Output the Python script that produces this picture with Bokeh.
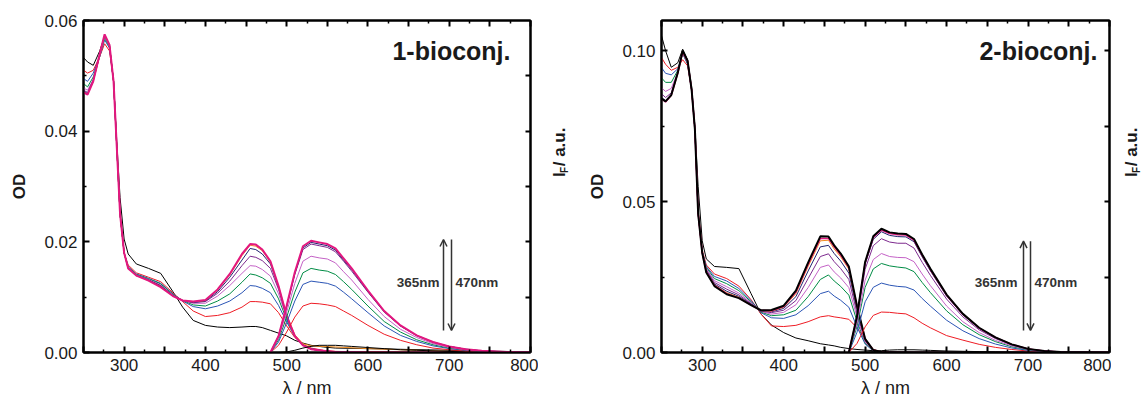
import math
from bokeh.plotting import figure
from bokeh.models import (Range1d, LinearAxis, FixedTicker, Label, Arrow, OpenHead,
                          CustomJSTickFormatter)
from bokeh.layouts import row
from bokeh.embed import file_html
from bokeh.resources import INLINE

FONT = "Liberation Sans"

# ---------------- data ----------------
abs_nm = [250, 255, 262, 270, 276, 282, 287, 291, 295, 300, 305, 315, 330, 345, 360, 372, 385,
          400, 415, 430, 445, 455, 462, 470, 480, 490, 500, 510, 520, 530, 545, 560, 600, 700, 800]
em_nm = [480, 490, 500, 510, 520, 530, 540, 550, 560, 570, 580, 600, 620, 640, 660, 680, 700,
         720, 740, 770, 800]

# panel 1 (1-bioconj.) absorption
l_abs_black = [0.0533, 0.0525, 0.0519, 0.0545, 0.0572, 0.0555, 0.049, 0.038, 0.028, 0.0205, 0.0178, 0.016, 0.0152, 0.0143, 0.011, 0.0082, 0.0058, 0.0049, 0.0046, 0.0045, 0.0046, 0.0047, 0.0047, 0.0045, 0.0040, 0.0035, 0.0030, 0.0022, 0.0017, 0.0013, 0.0010, 0.0008, 0.0007, 0.0004, 0.0001]
l_abs_red = [0.051, 0.0505, 0.051, 0.0535, 0.0558, 0.0545, 0.049, 0.037, 0.025, 0.018, 0.0158, 0.0144, 0.0136, 0.0128, 0.0108, 0.0092, 0.0075, 0.0065, 0.0067, 0.0072, 0.0082, 0.0092, 0.0092, 0.0091, 0.0088, 0.0072, 0.0048, 0.0027, 0.0015, 0.0008, 0.0004, 0.0002, 0.0001, 0.0, 0.0]
l_abs_blue = [0.0495, 0.049, 0.0505, 0.0535, 0.0565, 0.055, 0.049, 0.037, 0.025, 0.018, 0.0155, 0.0142, 0.0134, 0.0125, 0.0106, 0.0093, 0.0083, 0.0079, 0.0084, 0.0093, 0.0108, 0.0121, 0.0120, 0.0116, 0.0108, 0.0085, 0.0055, 0.0029, 0.0014, 0.0007, 0.0003, 0.0001, 0, 0, 0]
l_abs_green = [0.0486, 0.048, 0.0498, 0.0535, 0.0568, 0.0552, 0.049, 0.037, 0.025, 0.018, 0.0154, 0.0141, 0.0133, 0.0124, 0.0105, 0.0094, 0.0086, 0.0084, 0.0093, 0.0106, 0.0127, 0.0142, 0.0140, 0.0135, 0.0125, 0.0097, 0.0059, 0.0029, 0.0013, 0.0006, 0.0003, 0.0001, 0, 0, 0]
l_abs_violet = [0.0478, 0.0474, 0.0494, 0.0535, 0.0571, 0.0553, 0.049, 0.037, 0.025, 0.018, 0.0153, 0.014, 0.0132, 0.0122, 0.0104, 0.0094, 0.0089, 0.0089, 0.0102, 0.0121, 0.0143, 0.0157, 0.0156, 0.0150, 0.0138, 0.0106, 0.0062, 0.0029, 0.0013, 0.0006, 0.0003, 0.0001, 0, 0, 0]
l_abs_purple = [0.0474, 0.047, 0.0492, 0.0537, 0.0573, 0.0554, 0.049, 0.037, 0.025, 0.018, 0.0152, 0.014, 0.0131, 0.0121, 0.0103, 0.0094, 0.009, 0.0092, 0.0107, 0.0129, 0.0157, 0.0174, 0.0172, 0.0166, 0.0152, 0.0114, 0.0064, 0.003, 0.0013, 0.0006, 0.0003, 0.0001, 0, 0, 0]
l_abs_navy = [0.0472, 0.0468, 0.0491, 0.0538, 0.0574, 0.0555, 0.049, 0.037, 0.025, 0.018, 0.0152, 0.0139, 0.0131, 0.012, 0.0103, 0.0094, 0.0091, 0.0093, 0.011, 0.0136, 0.0167, 0.0188, 0.0186, 0.0178, 0.016, 0.0118, 0.0065, 0.003, 0.0013, 0.0006, 0.0003, 0.0001, 0, 0, 0]
l_abs_orange = [0.0471, 0.0467, 0.049, 0.0538, 0.0574, 0.0555, 0.049, 0.037, 0.025, 0.018, 0.0152, 0.0139, 0.013, 0.0119, 0.0102, 0.0094, 0.0092, 0.0094, 0.0113, 0.014, 0.0175, 0.0194, 0.0192, 0.0184, 0.0163, 0.012, 0.0067, 0.0032, 0.0016, 0.0012, 0.0011, 0.001, 0.0007, 0.0002, 0]
l_abs_magenta = [0.047, 0.0466, 0.049, 0.054, 0.0575, 0.0556, 0.049, 0.037, 0.025, 0.018, 0.0152, 0.0139, 0.013, 0.0118, 0.0102, 0.0094, 0.0092, 0.0095, 0.0114, 0.0142, 0.0178, 0.0196, 0.0195, 0.0186, 0.0165, 0.012, 0.0066, 0.003, 0.0013, 0.0006, 0.0003, 0.0001, 0, 0, 0]

# panel 1 emission
l_em_black = [0, 0, 0.0001, 0.0004, 0.0008, 0.0011, 0.0013, 0.0013, 0.0013, 0.0012, 0.0011, 0.0009, 0.0007, 0.0005, 0.0004, 0.0003, 0.0002, 0.0001, 0.0001, 0, 0]
l_em_red = [0, 0.0013, 0.0037, 0.0064, 0.0084, 0.0089, 0.0088, 0.0086, 0.0083, 0.0075, 0.0067, 0.0049, 0.0033, 0.0022, 0.0014, 0.0008, 0.0005, 0.0003, 0.0001, 0.0, 0.0]
l_em_blue = [0, 0.0019, 0.0054, 0.0093, 0.0123, 0.0129, 0.0127, 0.0125, 0.0120, 0.0109, 0.0097, 0.0072, 0.0048, 0.0031, 0.0020, 0.0012, 0.0007, 0.0004, 0.0002, 0.0001, 0]
l_em_green = [0, 0.0023, 0.0064, 0.0109, 0.0144, 0.0152, 0.0149, 0.0147, 0.0141, 0.0128, 0.0114, 0.0084, 0.0056, 0.0037, 0.0023, 0.0014, 0.0008, 0.0005, 0.0002, 0.0001, 0]
l_em_violet = [0, 0.0026, 0.0073, 0.0125, 0.0165, 0.0174, 0.0171, 0.0169, 0.0162, 0.0146, 0.0131, 0.0096, 0.0065, 0.0042, 0.0027, 0.0016, 0.0009, 0.0005, 0.0003, 0.0001, 0]
l_em_purple = [0, 0.0029, 0.0082, 0.0141, 0.0186, 0.0196, 0.0193, 0.0190, 0.0182, 0.0165, 0.0147, 0.0109, 0.0073, 0.0048, 0.0030, 0.0018, 0.0011, 0.0006, 0.0003, 0.0001, 0]
l_em_navy = [0, 0.0030, 0.0084, 0.0143, 0.0189, 0.0199, 0.0196, 0.0193, 0.0185, 0.0167, 0.0150, 0.0110, 0.0074, 0.0048, 0.0031, 0.0019, 0.0011, 0.0006, 0.0003, 0.0001, 0]
l_em_magenta = [0, 0.0030, 0.0085, 0.0145, 0.0192, 0.0202, 0.0199, 0.0196, 0.0188, 0.0170, 0.0152, 0.0112, 0.0075, 0.0049, 0.0031, 0.0019, 0.0011, 0.0006, 0.0003, 0.0001, 0]

# panel 2 (2-bioconj.) absorption
r_abs_black0 = [0.105, 0.100, 0.0945, 0.096, 0.1005, 0.097, 0.088, 0.075, 0.055, 0.037, 0.031, 0.0285, 0.0282, 0.0278, 0.0195, 0.0128, 0.0091, 0.0066, 0.0048, 0.0039, 0.0029, 0.0025, 0.0022, 0.0017, 0.0013, 0.001, 0.0008, 0.0006, 0.0004, 0.0003, 0.0002, 0.0001, 0, 0, 0]
r_abs_red = [0.0977, 0.0955, 0.0935, 0.0945, 0.097, 0.095, 0.087, 0.074, 0.047, 0.034, 0.029, 0.026, 0.0245, 0.022, 0.0175, 0.0128, 0.0088, 0.0086, 0.009, 0.0102, 0.0118, 0.0122, 0.0118, 0.0115, 0.011, 0.0082, 0.0045, 0.001, 0.0002, 0, 0, 0, 0, 0, 0]
r_abs_blue = [0.0944, 0.0925, 0.092, 0.094, 0.099, 0.0955, 0.087, 0.074, 0.046, 0.0335, 0.0285, 0.0252, 0.0237, 0.0212, 0.0172, 0.0132, 0.0115, 0.0113, 0.0125, 0.0155, 0.0195, 0.0203, 0.0187, 0.0173, 0.015, 0.0085, 0.0028, 0.0005, 0.0001, 0, 0, 0, 0, 0, 0]
r_abs_green = [0.091, 0.0895, 0.0895, 0.0935, 0.0992, 0.0958, 0.087, 0.074, 0.046, 0.0333, 0.0282, 0.0245, 0.0228, 0.0205, 0.0168, 0.0134, 0.0122, 0.0125, 0.014, 0.0185, 0.0242, 0.0257, 0.0237, 0.0219, 0.019, 0.0104, 0.0031, 0.0006, 0.0001, 0, 0, 0, 0, 0, 0]
r_abs_violet = [0.0877, 0.0865, 0.0875, 0.093, 0.0993, 0.096, 0.087, 0.074, 0.046, 0.0331, 0.0278, 0.0238, 0.0218, 0.0197, 0.0165, 0.0136, 0.0127, 0.0133, 0.0158, 0.0215, 0.0282, 0.029, 0.0267, 0.0247, 0.0215, 0.0117, 0.0034, 0.0006, 0.0002, 0, 0, 0, 0, 0, 0]
r_abs_purple = [0.0857, 0.0845, 0.086, 0.0928, 0.0994, 0.0962, 0.087, 0.074, 0.046, 0.033, 0.0274, 0.0232, 0.021, 0.0191, 0.0162, 0.0137, 0.0132, 0.014, 0.0172, 0.0245, 0.0318, 0.0327, 0.0301, 0.0278, 0.0242, 0.0131, 0.0038, 0.0007, 0.0002, 0, 0, 0, 0, 0, 0]
r_abs_navy = [0.0845, 0.0835, 0.0855, 0.0927, 0.0995, 0.0963, 0.087, 0.074, 0.046, 0.033, 0.027, 0.0227, 0.0203, 0.0186, 0.016, 0.0138, 0.0135, 0.0146, 0.0185, 0.027, 0.035, 0.0355, 0.0328, 0.0303, 0.0263, 0.0143, 0.0042, 0.0007, 0.0002, 0, 0, 0, 0, 0, 0]
r_abs_orange = [0.0842, 0.0832, 0.0853, 0.0926, 0.0995, 0.0964, 0.087, 0.074, 0.046, 0.033, 0.0268, 0.0224, 0.0198, 0.0183, 0.0158, 0.0139, 0.0137, 0.015, 0.0195, 0.0285, 0.037, 0.0372, 0.0343, 0.0317, 0.0276, 0.015, 0.0044, 0.0008, 0.0002, 0, 0, 0, 0, 0, 0]
r_abs_magenta = [0.084, 0.083, 0.0852, 0.0926, 0.0996, 0.0965, 0.087, 0.074, 0.046, 0.033, 0.0266, 0.0222, 0.0195, 0.0181, 0.0157, 0.014, 0.0138, 0.0152, 0.02, 0.0292, 0.0378, 0.0378, 0.035, 0.0323, 0.0281, 0.0153, 0.0044, 0.0008, 0.0002, 0, 0, 0, 0, 0, 0]
r_abs_black1 = [0.0841, 0.0832, 0.0853, 0.0927, 0.1, 0.0967, 0.087, 0.074, 0.046, 0.033, 0.0265, 0.022, 0.0193, 0.018, 0.0157, 0.014, 0.0141, 0.0155, 0.0205, 0.0298, 0.0385, 0.0384, 0.0355, 0.0328, 0.0285, 0.0155, 0.0045, 0.0008, 0.0002, 0, 0, 0, 0, 0, 0]

# panel 2 emission
r_em_black0 = [0, 0, 0.0001, 0.0003, 0.0006, 0.0008, 0.0009, 0.0009, 0.0009, 0.0008, 0.0007, 0.0005, 0.0004, 0.0003, 0.0002, 0.0001, 0.0001, 0, 0, 0, 0]
r_em_red = [0, 0.0030, 0.0085, 0.0123, 0.0134, 0.0133, 0.013, 0.0128, 0.0115, 0.0097, 0.0082, 0.0056, 0.0041, 0.0027, 0.0017, 0.0010, 0.0005, 0.0002, 0.0001, 0, 0]
r_em_blue = [0, 0.0067, 0.0168, 0.0216, 0.0230, 0.0223, 0.0219, 0.0217, 0.0207, 0.0179, 0.0154, 0.0107, 0.0072, 0.0046, 0.0028, 0.0015, 0.0007, 0.0003, 0.0001, 0, 0]
r_em_green = [0, 0.0086, 0.0216, 0.0277, 0.0295, 0.0287, 0.0283, 0.0280, 0.0268, 0.0232, 0.0199, 0.0138, 0.0092, 0.0059, 0.0036, 0.0019, 0.0009, 0.0004, 0.0001, 0, 0]
r_em_violet = [0, 0.0096, 0.0240, 0.0308, 0.0328, 0.0318, 0.0315, 0.0314, 0.0301, 0.0260, 0.0222, 0.0154, 0.0102, 0.0066, 0.0040, 0.0022, 0.0010, 0.0004, 0.0002, 0.0001, 0]
r_em_purple = [0, 0.0110, 0.0276, 0.0354, 0.0377, 0.0366, 0.0362, 0.0362, 0.0346, 0.0299, 0.0256, 0.0177, 0.0118, 0.0075, 0.0046, 0.0025, 0.0011, 0.0005, 0.0002, 0.0001, 0]
r_em_navy = [0, 0.0117, 0.0293, 0.0375, 0.0400, 0.0388, 0.0384, 0.0383, 0.0367, 0.0317, 0.0271, 0.0187, 0.0125, 0.0080, 0.0049, 0.0026, 0.0012, 0.0005, 0.0002, 0.0001, 0]
r_em_magenta = [0, 0.0119, 0.0297, 0.0381, 0.0406, 0.0394, 0.0390, 0.0389, 0.0372, 0.0322, 0.0275, 0.0190, 0.0127, 0.0081, 0.0050, 0.0027, 0.0012, 0.0005, 0.0002, 0.0001, 0]
r_em_black1 = [0, 0.0120, 0.0300, 0.0385, 0.0410, 0.0398, 0.0394, 0.0393, 0.0376, 0.0325, 0.0278, 0.0192, 0.0128, 0.0082, 0.0050, 0.0027, 0.0012, 0.0005, 0.0002, 0.0001, 0]

panel_titles = ["1-bioconj.", "2-bioconj."]
x_tick_values = [250, 300, 350, 400, 450, 500, 550, 600, 650, 700, 750, 800]
x_minor_values = [275, 325, 375, 425, 475, 525, 575, 625, 675, 725, 775]

# ---------------- style ----------------
BLACK = "#000000"
RED = "#ee1c24"
BLUE = "#2b55b5"
GREEN = "#008c45"
VIOLET = "#c462c6"
PURPLE = "#7d2a8e"
NAVY = "#22236f"
ORANGE = "#f28c1e"
MAGENTA = "#e3177f"
GREY = "#333333"
TXT = "#1a1a1a"

H = 403          # canvas height (page body has no margin)
TOP_B = 20
BOT_B = 51


def style_axis(ax, tick_len=6, minor_len=3):
    ax.axis_line_width = 2
    ax.axis_line_color = "black"
    ax.major_tick_in = tick_len
    ax.major_tick_out = 0
    ax.minor_tick_in = minor_len
    ax.minor_tick_out = 0
    ax.major_tick_line_width = 2
    ax.minor_tick_line_width = 1.5
    ax.major_label_text_font = FONT
    ax.major_label_text_font_size = "17px"
    ax.major_label_text_color = TXT
    ax.major_label_standoff = 6


def make_panel(ref_frame, ymax, yticks, yminor, rticks, bl, fw, br, abs_sets, em_sets, title,
               title_px, arrows_px, lab_px):
    fx0, fx1, fy0, fy1 = ref_frame

    def dx(px):
        return 250 + (px - fx0) * 550.0 / (fx1 - fx0)

    def dy(py):
        return ymax * (fy1 - py) / (fy1 - fy0)

    p = figure(width=bl + fw + br, height=H,
               min_border_left=bl, min_border_right=br, min_border_top=TOP_B,
               min_border_bottom=BOT_B,
               x_range=Range1d(250, 800), y_range=Range1d(0, ymax),
               output_backend="svg", toolbar_location=None, tools="")
    p.grid.visible = False
    p.outline_line_color = "black"
    p.outline_line_width = 2
    p.background_fill_color = "white"
    p.border_fill_color = "white"

    p.xaxis.ticker = FixedTicker(ticks=x_tick_values, minor_ticks=x_minor_values)
    p.xaxis.formatter = CustomJSTickFormatter(
        code="return (Math.round(tick) % 100 == 0) ? tick.toFixed(0) : ''")
    p.yaxis.ticker = FixedTicker(ticks=yticks, minor_ticks=yminor)
    p.yaxis.formatter = CustomJSTickFormatter(code="return tick.toFixed(2)")
    for ax in p.xaxis + p.yaxis:
        style_axis(ax)
    p.xaxis.axis_label = "λ / nm"
    p.xaxis.axis_label_text_font = FONT
    p.xaxis.axis_label_text_font_size = "18px"
    p.xaxis.axis_label_text_font_style = "normal"
    p.xaxis.axis_label_text_color = TXT
    p.xaxis.axis_label_standoff = 4
    p.yaxis.axis_label = "OD"
    p.yaxis.axis_label_text_font = FONT
    p.yaxis.axis_label_text_font_size = "17px"
    p.yaxis.axis_label_text_font_style = "bold"
    p.yaxis.axis_label_text_color = TXT
    p.yaxis.axis_label_standoff = 12

    top = LinearAxis(ticker=FixedTicker(ticks=x_tick_values, minor_ticks=x_minor_values),
                     formatter=CustomJSTickFormatter(code="return ''"))
    style_axis(top)
    top.major_label_standoff = 0
    p.add_layout(top, "above")
    right = LinearAxis(ticker=FixedTicker(ticks=rticks),
                       formatter=CustomJSTickFormatter(code="return ''"))
    style_axis(right, tick_len=5)
    right.major_label_standoff = 0
    p.add_layout(right, "right")

    for vals, col, w in abs_sets:
        p.line(abs_nm, vals, line_color=col, line_width=w)
    for vals, col, w in em_sets:
        p.line(em_nm, vals, line_color=col, line_width=w)

    p.add_layout(Label(x=dx(title_px[0]), y=dy(title_px[1]), text=title, text_align="right",
                       text_baseline="middle", text_font=FONT, text_font_style="bold",
                       text_font_size="25px", text_color=TXT))

    ux, dxp, ytop, ybot = arrows_px
    p.add_layout(Arrow(end=OpenHead(size=7, line_width=1.5, line_color=GREY),
                       x_start=dx(ux), y_start=dy(ybot), x_end=dx(ux), y_end=dy(ytop),
                       line_width=1.5, line_color=GREY))
    p.add_layout(Arrow(end=OpenHead(size=7, line_width=1.5, line_color=GREY),
                       x_start=dx(dxp), y_start=dy(ytop), x_end=dx(dxp), y_end=dy(ybot),
                       line_width=1.5, line_color=GREY))
    lx_r, lx_l, ly = lab_px
    p.add_layout(Label(x=dx(lx_r), y=dy(ly), text="365nm", text_align="right",
                       text_baseline="middle", text_font=FONT, text_font_style="bold",
                       text_font_size="13.5px", text_color=GREY))
    p.add_layout(Label(x=dx(lx_l), y=dy(ly), text="470nm", text_align="left",
                       text_baseline="middle", text_font=FONT, text_font_style="bold",
                       text_font_size="13.5px", text_color=GREY))
    return p


def label_strip(width, cx, bottom_page_y):
    """narrow canvas carrying the rotated I_F / a.u. axis title"""
    s = figure(width=width, height=H, x_range=Range1d(0, width), y_range=Range1d(0, H),
               x_axis_type=None, y_axis_type=None, min_border=0,
               output_backend="svg", toolbar_location=None, tools="")
    s.outline_line_color = None
    s.background_fill_color = "white"
    s.border_fill_color = "white"
    by = H - bottom_page_y
    kw = dict(angle=math.pi / 2, text_align="left", text_baseline="middle",
              text_font=FONT, text_font_style="bold", text_color=TXT)
    s.add_layout(Label(x=cx, y=by, text="I", text_font_size="17px", **kw))
    s.add_layout(Label(x=cx + 5, y=by + 5, text="F", text_font_size="10px", **kw))
    s.add_layout(Label(x=cx, y=by + 13, text="/ a.u.", text_font_size="17px", **kw))
    return s


# page layout (no body margin): p1 0..538, strip1 538..574, p2 574..1111, strip2 1111..1141
p1 = make_panel(
    ref_frame=(83, 530, 20, 352), ymax=0.06,
    yticks=[0, 0.02, 0.04, 0.06], yminor=[0.01, 0.03, 0.05],
    rticks=[0.01, 0.02, 0.03, 0.04, 0.05],
    bl=83, fw=447, br=8,
    abs_sets=[(l_abs_black, BLACK, 1), (l_abs_red, RED, 1), (l_abs_blue, BLUE, 1),
              (l_abs_green, GREEN, 1), (l_abs_violet, VIOLET, 1), (l_abs_purple, PURPLE, 1),
              (l_abs_navy, NAVY, 1), (l_abs_orange, ORANGE, 1), (l_abs_magenta, MAGENTA, 2)],
    em_sets=[(l_em_black, BLACK, 1), (l_em_red, RED, 1), (l_em_blue, BLUE, 1),
             (l_em_green, GREEN, 1), (l_em_violet, VIOLET, 1), (l_em_purple, PURPLE, 1),
             (l_em_navy, NAVY, 1), (l_em_magenta, MAGENTA, 2)],
    title=panel_titles[0], title_px=(510, 50),
    arrows_px=(443, 451, 239, 330), lab_px=(439, 455, 282))
s1 = label_strip(36, 21, 190)

p2 = make_panel(
    ref_frame=(661, 1109, 20, 351), ymax=0.11,
    yticks=[0, 0.05, 0.10], yminor=[0.025, 0.075],
    rticks=[0.025, 0.05, 0.075, 0.1],
    bl=87, fw=448, br=2,
    abs_sets=[(r_abs_black0, BLACK, 1), (r_abs_red, RED, 1), (r_abs_blue, BLUE, 1),
              (r_abs_green, GREEN, 1), (r_abs_violet, VIOLET, 1), (r_abs_purple, PURPLE, 1),
              (r_abs_navy, NAVY, 1), (r_abs_orange, ORANGE, 1), (r_abs_magenta, MAGENTA, 1.5),
              (r_abs_black1, BLACK, 2)],
    em_sets=[(r_em_black0, BLACK, 1), (r_em_red, RED, 1), (r_em_blue, BLUE, 1),
             (r_em_green, GREEN, 1), (r_em_violet, VIOLET, 1), (r_em_purple, PURPLE, 1),
             (r_em_navy, NAVY, 1), (r_em_magenta, MAGENTA, 1.5), (r_em_black1, BLACK, 2)],
    title=panel_titles[1], title_px=(1097, 50),
    arrows_px=(1023, 1030, 240, 329), lab_px=(1017, 1034, 281))
s2 = label_strip(30, 20, 190)

layout = row(p1, s1, p2, s2)
open("out.html", "w").write(file_html(layout, INLINE))
